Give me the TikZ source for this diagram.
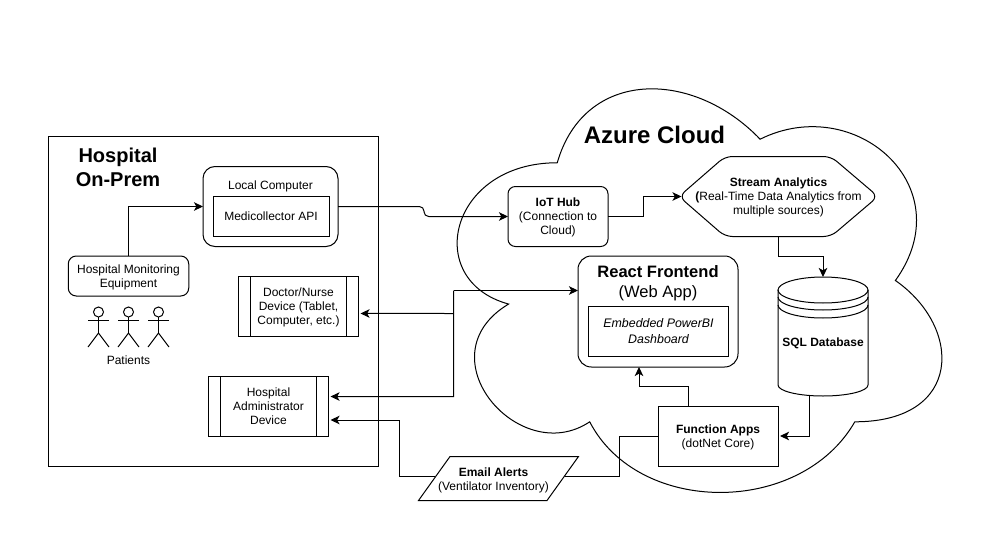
\documentclass[tikz,border=0pt]{standalone}
\usepackage{fontspec}
\setmainfont{Liberation Sans}
\usetikzlibrary{arrows.meta,calc}
\tikzset{
  lbl/.style={font=\fontsize{9}{10.5}\selectfont,align=center,inner sep=0pt,text=black,text depth=0pt},
  sz/.style 2 args={minimum width=#1*0.75pt,minimum height=#2*0.75pt,inner sep=0pt,outer sep=0pt,align=center,font=\fontsize{9}{10.5}\selectfont,text depth=0pt},
  sbox/.style={draw=black,line width=0.75pt},
  rbox/.style={draw=black,line width=0.75pt,rounded corners=#1},
  ln/.style={draw=black,line width=0.75pt},
  conn/.style={draw=black,line width=0.75pt,-{Stealth[length=6.8pt,width=6.4pt,inset=1.8pt]}},
  gapend/.style={shorten >=1.5pt},
  heading/.style={font=\fontsize{15}{18}\selectfont\bfseries,align=center,inner sep=0pt},
}
\begin{document}
\begin{tikzpicture}[x=0.75pt,y=-0.75pt]
\useasboundingbox (0,0) rectangle (1006,560);
\fill[white] (0,0) rectangle (1006,560);

% Cloud
\draw[ln] (557.25,162.75)
  .. controls (449,162.75) and (422,280.5) .. (508.6,304.05)
  .. controls (422,355.9) and (519.4,468.9) .. (589.7,421.8)
  .. controls (638.4,516) and (800.7,516) .. (854.8,421.8)
  .. controls (963,421.8) and (963,327.6) .. (895.4,280.5)
  .. controls (963,186.3) and (854.8,92.1) .. (760.1,139.2)
  .. controls (692.5,68.55) and (584.3,68.55) .. (557.25,162.75) -- cycle;
\node[font=\fontsize{18}{21}\selectfont\bfseries,inner sep=0pt] (azure) at (654.5,135) {Azure Cloud};

% Hospital
\node[sbox,sz={330}{330}] (hospital) at (213.5,301) {};
\node[heading] (hosptitle) at (118,167) {Hospital\\On-Prem};

\node[rbox=9pt,sz={135}{80}] (local) at (270.5,206.5) {};
\node[lbl] (localtxt) at (270.5,185) {Local Computer};
\node[sbox,sz={116}{40}] (api) at (271,216) {Medicollector API};

\node[rbox=6pt,sz={120.5}{40}] (monitor) at (128.5,276) {Hospital Monitoring\\Equipment};

\foreach \px in {98.5,128.5,158.5}{
  \draw[ln] (\px,312) circle[radius=5];
  \draw[ln] (\px,317) -- (\px,333);
  \draw[ln] (\px-10.5,320) -- (\px+10.5,320);
  \draw[ln] (\px-10.5,347) -- (\px,333) -- (\px+10.5,347);
}
\node[lbl] (patients) at (128.5,360) {Patients};

\node[sbox,sz={120}{60}] (doctor) at (298.5,306) {Doctor/Nurse\\Device (Tablet,\\Computer, etc.)};
\draw[ln] ([xshift=9pt]doctor.north west) -- ([xshift=9pt]doctor.south west);
\draw[ln] ([xshift=-9pt]doctor.north east) -- ([xshift=-9pt]doctor.south east);

\node[sbox,sz={120}{60}] (admin) at (268.5,406) {Hospital\\Administrator\\Device};
\draw[ln] ([xshift=9pt]admin.north west) -- ([xshift=9pt]admin.south west);
\draw[ln] ([xshift=-9pt]admin.north east) -- ([xshift=-9pt]admin.south east);

% Email alerts
\draw[ln] (450,456.5) -- (578.5,456.5) -- (547,500.5) -- (418.5,500.5) -- cycle;
\node[lbl] (email) at (493.5,479) {\textbf{Email Alerts}\\(Ventilator Inventory)};
\coordinate (emailR) at (565,476.5);
\coordinate (emailL) at (435,476.5);

% Cloud contents
\node[rbox=5.5pt,sz={100}{60}] (iot) at (558,216.5) {\textbf{IoT Hub}\\(Connection to\\Cloud)};

\draw[ln,rounded corners=5.5pt] (679,196.5) -- (725,156.5) -- (831,156.5) -- (878,196.5) -- (831,236.5) -- (725,236.5) -- cycle;
\node[sz={194}{80}] (stream) at (778.5,196.5) {\textbf{Stream Analytics}\\\textbf{(}Real-Time Data Analytics from\\multiple sources)};

\node[rbox=10pt,sz={160}{111}] (react) at (658,311.5) {};
\node[font=\fontsize{12.4}{15}\selectfont\bfseries,inner sep=0pt] (reacttitle) at (658,271.5) {React Frontend};
\node[font=\fontsize{12.4}{15}\selectfont,inner sep=0pt] (reactsub) at (658,293) {(Web App)};
\node[sbox,sz={140}{50},font=\fontsize{9.3}{12}\selectfont\itshape] (embedded) at (658.5,331) {Embedded PowerBI\\Dashboard};

% SQL database
\node[sz={90}{119}] (sql) at (823,336.5) {};
\node[lbl] (sqltxt) at (823,342) {\textbf{SQL Database}};
\draw[ln] (823,290) ellipse[x radius=33.75pt,y radius=9.75pt];
\draw[ln] (778,297) arc[start angle=180,end angle=360,x radius=33.75pt,y radius=9.75pt];
\draw[ln] (778,305) arc[start angle=180,end angle=360,x radius=33.75pt,y radius=9.75pt];
\draw[ln] (778,290) -- (778,385) arc[start angle=180,end angle=360,x radius=33.75pt,y radius=8.25pt] -- (868,290);

\node[sbox,sz={120}{60}] (func) at (718,436) {\textbf{Function Apps}\\(dotNet Core)};

% Connectors
\draw[conn] (monitor.north) |- (local.west);
\draw[conn,rounded corners=3.5pt] (local.east) -- (424,206.5) -- (424,216.5) -- (iot.west);
\draw[conn] (iot.east) -- ++(35,0) |- (stream.west);
\draw[conn] (stream.south) -- ++(0,20) -| (sql.north);
\draw[conn,gapend] ([xshift=-10.5pt]sql.south) |- (func.east);
\draw[conn] ([xshift=-22.5pt]func.north) -- ++(0,-20) -| ([xshift=-14.25pt]react.south);

\coordinate (hubTop) at (453.5,290.5);
\coordinate (hubMid) at (453.5,313.5);
\coordinate (hubBot) at (453.5,396.5);
\draw[conn] (hubTop) -- ([yshift=15.75pt]react.west);
\draw[conn,gapend] (hubMid) -- ([yshift=-5.6pt]doctor.east);
\draw[conn,gapend] (hubTop) -- (hubBot) -- ([yshift=7.1pt]admin.east);

\draw[ln] (func.west) -- ++(-39,0) |- (emailR);
\draw[conn,gapend] (emailL) -- (399.5,476.5) |- ([yshift=-10.5pt]admin.east);
\end{tikzpicture}
\end{document}
